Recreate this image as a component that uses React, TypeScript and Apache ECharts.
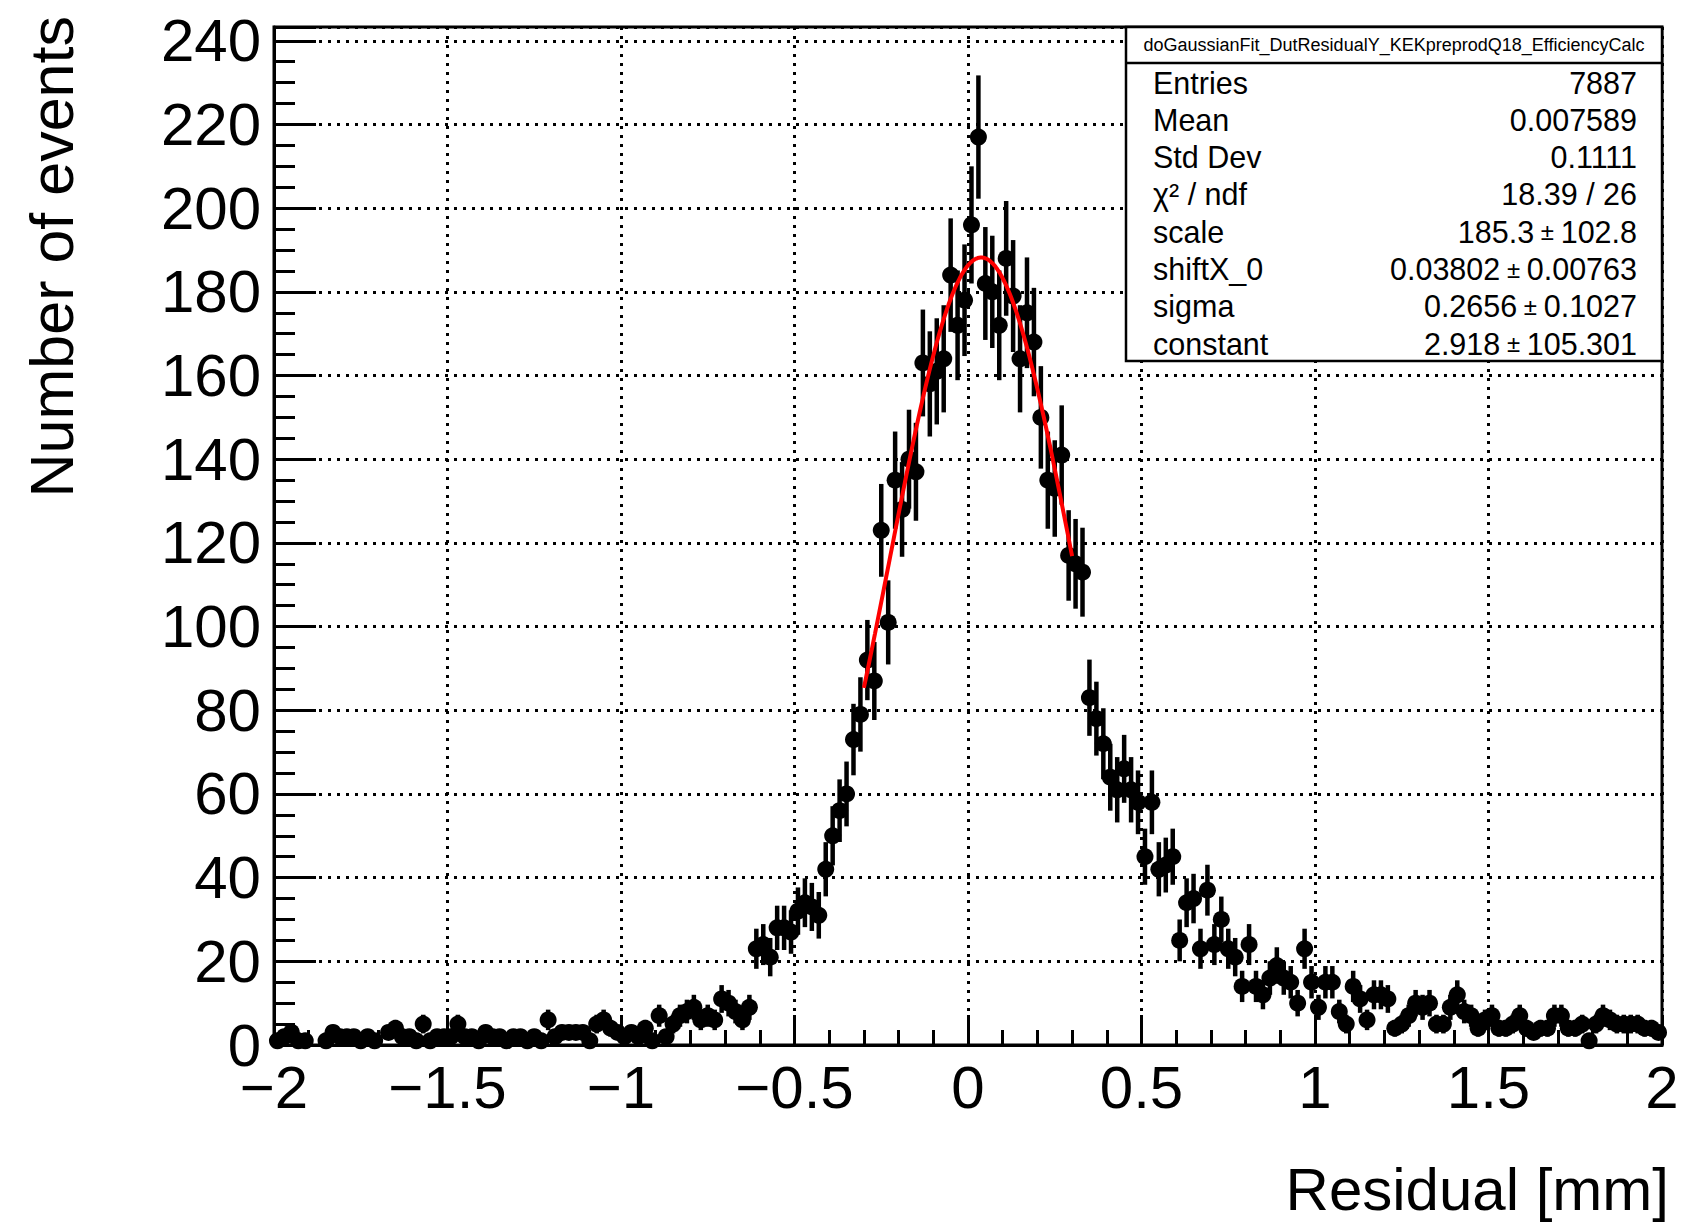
import React, { useEffect, useRef } from "react";
import * as echarts from "echarts";

// Histogram binning
const HIST_MIN = -2;
const HIST_MAX = 2;
const BIN_WIDTH = 0.02;

// Bin contents (200 bins from -2 to 2)
const binCounts: number[] = [
  1, 2, 3, 1, 1, 0, 0, 1, 3, 2,
  2, 2, 1, 2, 1, 0, 3, 4, 2, 2,
  1, 5, 1, 2, 2, 2, 5, 2, 2, 1,
  3, 2, 2, 1, 2, 2, 1, 2, 1, 6,
  2, 3, 3, 3, 3, 1, 5, 6, 4, 3,
  2, 3, 2, 4, 1, 7, 2, 5, 7, 8,
  9, 6, 7, 6, 11, 10, 8, 6, 9, 23,
  24, 21, 28, 28, 27, 32, 34, 33, 31, 42,
  50, 56, 60, 73, 79, 92, 87, 123, 101, 135,
  128, 140, 137, 163, 158, 161, 164, 184, 172, 178,
  196, 217, 182, 180, 172, 188, 179, 164, 175, 168,
  150, 135, 133, 141, 117, 115, 113, 83, 78, 72,
  64, 61, 66, 61, 58, 45, 58, 42, 43, 45,
  25, 34, 35, 23, 37, 24, 30, 23, 21, 14,
  24, 14, 12, 16, 19, 16, 15, 10, 23, 15,
  9, 15, 15, 8, 5, 14, 11, 6, 12, 12,
  11, 4, 5, 7, 10, 9, 10, 5, 5, 9,
  12, 8, 7, 4, 6, 7, 4, 4, 5, 7,
  4, 3, 4, 4, 7, 7, 4, 4, 5, 1,
  5, 7, 6, 5, 5, 5, 5, 4, 4, 3,
];

// Axis ticks
const xTickValues = [-2, -1.5, -1, -0.5, 0, 0.5, 1, 1.5, 2];
const xTickLabels = ["\u22122", "\u22121.5", "\u22121", "\u22120.5", "0", "0.5", "1", "1.5", "2"];
const yTickValues = [0, 20, 40, 60, 80, 100, 120, 140, 160, 180, 200, 220, 240];
const yTickLabels = ["0", "20", "40", "60", "80", "100", "120", "140", "160", "180", "200", "220", "240"];
const Y_MAX = 243.3;

// Titles
const xTitle = "Residual [mm]";
const yTitle = "Number of events";

// Stats box
const statsTitle = "doGaussianFit_DutResidualY_KEKpreprodQ18_EfficiencyCalc";
const statLabels = ["Entries", "Mean", "Std Dev", "\u03c7\u00b2 / ndf", "scale", "shiftX_0", "sigma", "constant"];
const statValues = ["7887", "0.007589", "0.1111", "18.39 / 26", "185.3 \u00b1 102.8", "0.03802 \u00b1 0.00763", "0.2656 \u00b1 0.1027", "2.918 \u00b1 105.301"];

// Fit parameters (gaussian + constant)
const fitScale = 185.3;
const fitShift = 0.03802;
const fitSigma = 0.2656;
const fitConstant = 2.918;
const fitRange = [-0.3, 0.3];

const FONT = "'Liberation Sans', Arial, Helvetica, sans-serif";

export default function App() {
  const ref = useRef<HTMLDivElement>(null);

  useEffect(() => {
    if (!ref.current) return;
    const chart = echarts.init(ref.current, undefined, { renderer: "svg" });

    const points = binCounts
      .map((c, i) => [HIST_MIN + BIN_WIDTH * (i + 0.5), c, Math.sqrt(c)])
      .filter((p) => p[1] > 0);

    const fitData: number[][] = [];
    const nFit = 150;
    for (let k = 0; k <= nFit; k++) {
      const x = fitRange[0] + ((fitRange[1] - fitRange[0]) * k) / nFit;
      const t = (x - fitShift) / fitSigma;
      fitData.push([x, fitScale * Math.exp(-0.5 * t * t) + fitConstant]);
    }

    const gridLeft = 274;
    const gridTop = 27;
    const gridRight = 1662;
    const gridBottom = 1045;

    const boxX = 1126;
    const boxY = 27;
    const boxW = gridRight - boxX;
    const boxH = 334;
    const rowY0 = 82.5;
    const rowStep = 37.3;

    const statGraphics: any[] = [];
    statLabels.forEach((lab, i) => {
      const y = rowY0 + rowStep * i;
      statGraphics.push({
        type: "text",
        z: 101,
        x: 1153,
        y,
        style: {
          text: lab,
          fill: "#000",
          font: `30.5px ${FONT}`,
          align: "left",
          textAlign: "left",
          verticalAlign: "middle",
          textVerticalAlign: "middle",
        },
      });
      const v = statValues[i];
      const richText = v.includes("\u00b1") ? v.split(" \u00b1 ").join("{pm| \u00b1 }") : v;
      statGraphics.push({
        type: "text",
        z: 101,
        x: 1637,
        y,
        style: {
          text: richText,
          fill: "#000",
          font: `30.5px ${FONT}`,
          fontSize: 30.5,
          fontFamily: FONT,
          lineHeight: 34,
          align: "right",
          textAlign: "right",
          verticalAlign: "middle",
          textVerticalAlign: "middle",
          rich: {
            pm: { fontSize: 24, fontFamily: FONT, fill: "#000", lineHeight: 34, verticalAlign: "middle" },
          },
        },
      });
    });

    const option: any = {
      animation: false,
      backgroundColor: "#fff",
      grid: {
        left: gridLeft,
        top: gridTop,
        width: gridRight - gridLeft,
        height: gridBottom - gridTop,
        show: true,
        borderColor: "#000",
        borderWidth: 3,
        backgroundColor: "transparent",
        containLabel: false,
      },
      xAxis: {
        type: "value",
        min: HIST_MIN,
        max: HIST_MAX,
        interval: 0.5,
        axisLine: { show: true, onZero: false, lineStyle: { color: "#000", width: 3 } },
        axisTick: { show: true, inside: true, length: 30, lineStyle: { color: "#000", width: 3 } },
        minorTick: { show: true, splitNumber: 5, length: 15, lineStyle: { color: "#000", width: 3 } },
        splitLine: { show: true, lineStyle: { color: "#000", width: 3, type: [3, 6] } },
        axisLabel: {
          show: true,
          margin: 12,
          fontSize: 60,
          fontFamily: FONT,
          color: "#000",
          showMinLabel: true,
          showMaxLabel: true,
          hideOverlap: false,
          formatter: (v: number) => {
            const idx = xTickValues.findIndex((t) => Math.abs(t - v) < 1e-9);
            return idx >= 0 ? xTickLabels[idx] : "";
          },
        },
      },
      yAxis: [
        {
          type: "value",
          min: 0,
          max: Y_MAX,
          interval: 20,
          position: "left",
          axisLine: { show: true, onZero: false, lineStyle: { color: "#000", width: 3 } },
          axisTick: { show: true, inside: true, length: 42, lineStyle: { color: "#000", width: 3 } },
          splitLine: { show: true, lineStyle: { color: "#000", width: 3, type: [3, 6] } },
          axisLabel: {
            show: true,
            margin: 13,
            fontSize: 60,
            fontFamily: FONT,
            color: "#000",
            showMinLabel: true,
            showMaxLabel: true,
            hideOverlap: false,
            formatter: (v: number) => {
              const idx = yTickValues.findIndex((t) => Math.abs(t - v) < 1e-9);
              return idx >= 0 ? yTickLabels[idx] : "";
            },
          },
        },
        {
          type: "value",
          min: 0,
          max: Y_MAX,
          interval: 5,
          position: "left",
          axisLine: { show: false, onZero: false },
          axisTick: { show: true, inside: true, length: 21, lineStyle: { color: "#000", width: 3 } },
          splitLine: { show: false },
          axisLabel: { show: false },
        },
      ],
      series: [
        {
          type: "custom",
          name: "errors",
          xAxisIndex: 0,
          yAxisIndex: 0,
          z: 2,
          clip: true,
          data: points,
          renderItem: (params: any, api: any) => {
            const x = api.value(0);
            const y = api.value(1);
            const e = api.value(2);
            const p1 = api.coord([x, y - e]);
            const p2 = api.coord([x, y + e]);
            return {
              type: "line",
              shape: { x1: p1[0], y1: p1[1], x2: p2[0], y2: p2[1] },
              style: { stroke: "#000", lineWidth: 4.5 },
            };
          },
        },
        {
          type: "scatter",
          name: "counts",
          xAxisIndex: 0,
          yAxisIndex: 0,
          z: 3,
          symbol: "circle",
          symbolSize: 17,
          itemStyle: { color: "#000", opacity: 1 },
          data: points.map((p) => [p[0], p[1]]),
        },
        {
          type: "line",
          name: "fit",
          xAxisIndex: 0,
          yAxisIndex: 0,
          z: 4,
          showSymbol: false,
          smooth: false,
          lineStyle: { color: "#ff0000", width: 4 },
          data: fitData,
        },
      ],
      graphic: [
        {
          type: "text",
          z: 100,
          x: 52,
          y: 16,
          rotation: Math.PI / 2,
          style: {
            text: yTitle,
            fill: "#000",
            font: `61px ${FONT}`,
            align: "right",
            textAlign: "right",
            verticalAlign: "middle",
            textVerticalAlign: "middle",
          },
        },
        {
          type: "text",
          z: 100,
          x: 1669,
          y: 1189,
          style: {
            text: xTitle,
            fill: "#000",
            font: `60px ${FONT}`,
            align: "right",
            textAlign: "right",
            verticalAlign: "middle",
            textVerticalAlign: "middle",
          },
        },
        {
          type: "rect",
          z: 99,
          shape: { x: boxX, y: boxY, width: boxW, height: boxH },
          style: { fill: "#fff", stroke: "#000", lineWidth: 2.5 },
        },
        {
          type: "line",
          z: 100,
          shape: { x1: boxX, y1: 63, x2: boxX + boxW, y2: 63 },
          style: { stroke: "#000", lineWidth: 2.5 },
        },
        {
          type: "text",
          z: 101,
          x: boxX + boxW / 2,
          y: 45,
          style: {
            text: statsTitle,
            fill: "#000",
            font: `18px ${FONT}`,
            align: "center",
            textAlign: "center",
            verticalAlign: "middle",
            textVerticalAlign: "middle",
          },
        },
        ...statGraphics,
      ],
    };

    chart.setOption(option);
    return () => {
      chart.dispose();
    };
  }, []);

  return (
    <div
      ref={ref}
      style={{ position: "absolute", left: 0, top: 0, width: 1685, height: 1227, background: "#fff" }}
    />
  );
}
